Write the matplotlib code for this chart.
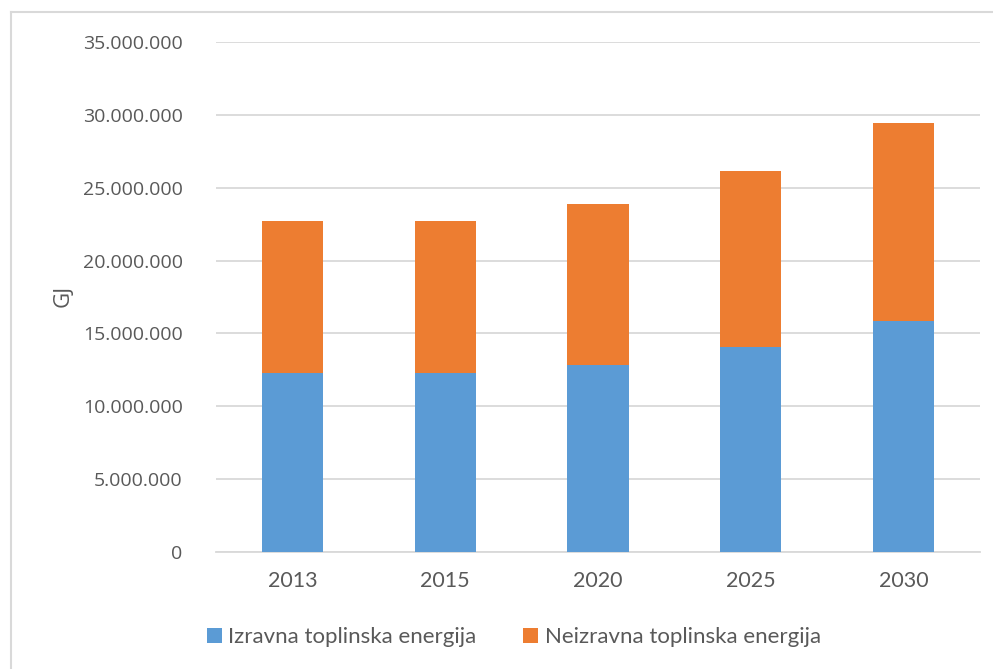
import matplotlib.pyplot as plt
import matplotlib.ticker as mticker
from matplotlib.lines import Line2D
from matplotlib.patches import Patch
import numpy as np

years = ["2013", "2015", "2020", "2025", "2030"]
izravna = [12260000, 12260000, 12830000, 14090000, 15870000]
neizravna = [10460000, 10460000, 11030000, 12080000, 13550000]
series_names = ["Izravna toplinska energija", "Neizravna toplinska energija"]
y_ticks = [0, 5000000, 10000000, 15000000, 20000000, 25000000, 30000000, 35000000]

BLUE = "#5B9BD5"
ORANGE = "#ED7D31"
TEXT = "#595959"
GRID = "#D9D9D9"

W, H = 993, 669
fig = plt.figure(figsize=(W / 100, H / 100), dpi=100)
ax = fig.add_axes([216 / W, 1 - 552 / H, (980 - 216) / W, (552 - 42) / H])

x = np.arange(len(years))
ax.bar(x, izravna, width=0.4, color=BLUE, zorder=3)
ax.bar(x, neizravna, width=0.4, bottom=izravna, color=ORANGE, zorder=3)

ax.set_xlim(-0.5, len(years) - 0.5)
ax.set_ylim(0, 35000000)
ax.set_yticks(y_ticks)
ax.yaxis.set_major_formatter(
    mticker.FuncFormatter(lambda v, p: f"{int(v):,}".replace(",", "."))
)
ax.set_xticks(x)
ax.set_xticklabels(years, fontfamily="Lato", fontsize=15.5, color=TEXT)
for lbl in ax.get_yticklabels():
    lbl.set_fontfamily("Open Sans")
    lbl.set_fontsize(14)
    lbl.set_color(TEXT)

ax.grid(axis="y", color=GRID, linewidth=1.3, zorder=0)
for s in ["top", "right", "left"]:
    ax.spines[s].set_visible(False)
ax.spines["bottom"].set_color(GRID)
ax.spines["bottom"].set_linewidth(1.3)
ax.tick_params(axis="both", length=0)
ax.tick_params(axis="y", pad=24)
ax.tick_params(axis="x", pad=14)

fig.text(63 / W, 1 - 296 / H, "GJ", rotation=90, ha="center", va="center",
         fontsize=16, color=TEXT, fontfamily="Open Sans")

handles = [Patch(facecolor=BLUE), Patch(facecolor=ORANGE)]
fig.legend(handles, series_names, loc="center", bbox_to_anchor=(514 / W, 1 - 637 / H),
           ncol=2, frameon=False, prop={"family": "Lato", "size": 16},
           labelcolor=TEXT, handlelength=0.65, handleheight=0.65,
           handletextpad=0.3, columnspacing=2.1)

# chart area border
fig.add_artist(Line2D([11 / W, 11 / W], [0, 1 - 12 / H], transform=fig.transFigure,
                      color="#D9D9D9", linewidth=1.5))
fig.add_artist(Line2D([11 / W, 1], [1 - 12 / H, 1 - 12 / H], transform=fig.transFigure,
                      color="#D9D9D9", linewidth=1.5))

fig.savefig("out.png", dpi=100, facecolor="white")
